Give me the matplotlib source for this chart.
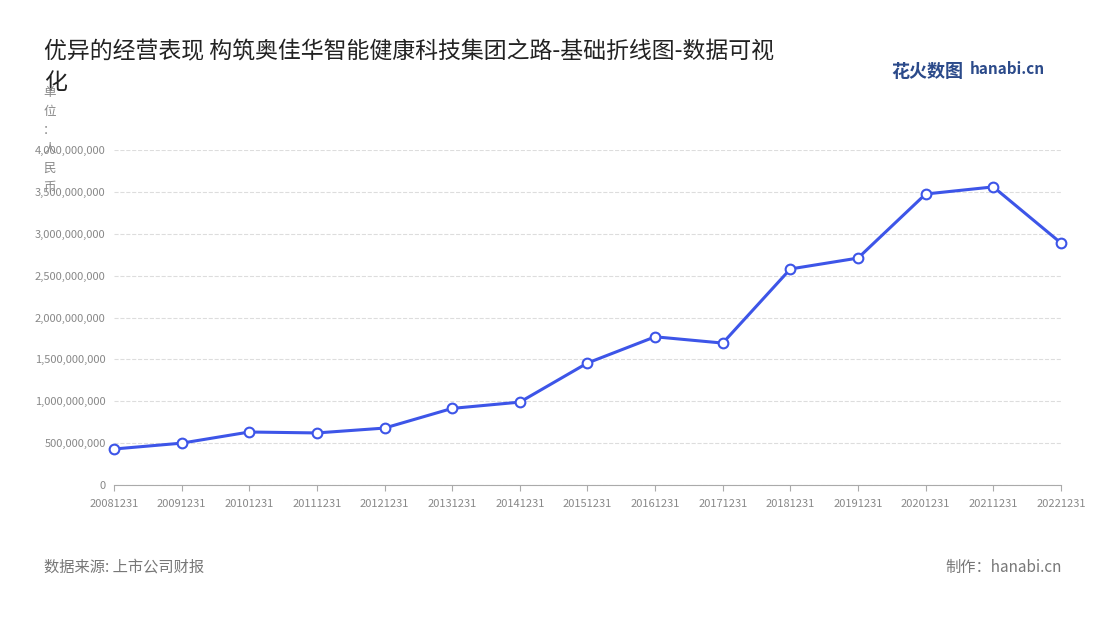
import matplotlib
matplotlib.use("Agg")
import matplotlib.pyplot as plt
from matplotlib.ticker import FuncFormatter

plt.rcParams['font.family'] = ['Noto Sans CJK SC', 'DejaVu Sans']

dates = ["20081231","20091231","20101231","20111231","20121231","20131231","20141231",
         "20151231","20161231","20171231","20181231","20191231","20201231","20211231","20221231"]
values = [430e6, 500e6, 633e6, 622e6, 680e6, 915e6, 990e6, 1457e6, 1770e6, 1695e6,
          2580e6, 2710e6, 3475e6, 3560e6, 2890e6]
yticks = [0, 5e8, 1e9, 1.5e9, 2e9, 2.5e9, 3e9, 3.5e9, 4e9]

fig = plt.figure(figsize=(11, 6.2), dpi=100)
ax = fig.add_axes([0.1036, 0.2177, 0.8609, 0.5403])
x = list(range(len(dates)))
ax.plot(x, values, color='#3d55e8', lw=2.2, marker='o', ms=7,
        markerfacecolor='white', markeredgecolor='#3d55e8', markeredgewidth=1.5, zorder=3,
        clip_on=False)
ax.set_xlim(0, len(dates) - 1)
ax.set_ylim(0, 4e9)
ax.set_yticks(yticks)
ax.yaxis.set_major_formatter(FuncFormatter(lambda v, p: f"{int(v):,}"))
ax.set_xticks(x)
ax.set_xticklabels(dates)
ax.tick_params(axis='both', labelsize=8, colors='#888888', length=0, pad=6)
ax.tick_params(axis='x', length=4, color='#aaaaaa')
ax.grid(axis='y', ls='--', color='#dddddd', lw=0.8)
for s in ['top', 'right', 'left']:
    ax.spines[s].set_visible(False)
ax.spines['bottom'].set_color('#aaaaaa')

fig.text(0.04, 0.935, "优异的经营表现 构筑奥佳华智能健康科技集团之路-基础折线图-数据可视\n化",
         fontsize=16.5, color='#222222', va='top', linespacing=1.45)
fig.text(0.045, 0.862, "单\n位\n：\n人\n民\n币", fontsize=9, color='#888888',
         va='top', ha='center', linespacing=1.6)
fig.text(0.81, 0.885, "花火数图", fontsize=13, color='#2b4a8a', fontweight='bold', va='center')
fig.text(0.882, 0.888, "hanabi.cn", fontsize=11, color='#2b4a8a', fontweight='bold', va='center')
fig.text(0.04, 0.085, "数据来源: 上市公司财报", fontsize=11, color='#777777', va='center')
fig.text(0.965, 0.085, "制作：hanabi.cn", fontsize=11, color='#777777', va='center', ha='right')

fig.savefig("out.png", dpi=100)
